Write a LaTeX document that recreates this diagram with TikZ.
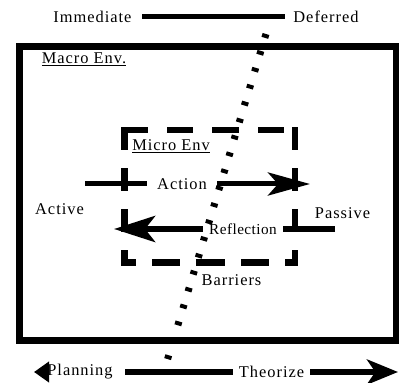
\documentclass[tikz,border=0pt]{standalone}
\usepackage{fontspec}
\setmainfont{Liberation Serif}[LetterSpace=6]
\usetikzlibrary{arrows.meta}

\begin{document}
\begin{tikzpicture}[every node/.style={font=\fontsize{14}{16}\selectfont},
    bar/.style={line width=0.15cm},
    microline/.style={line width=0.195cm, line cap=rect}]
  \useasboundingbox (0,0) rectangle (11.97,-11.49);
  \node[minimum width=2.97cm] (imm) at (2.775,-0.5) {Immediate};
  \node[minimum width=2.43cm] (def) at (9.78,-0.5) {Deferred};
  \draw[bar] (imm) -- (def);
  \draw[line width=0.21cm] (0.585,-1.395) rectangle (11.88,-10.215);
  \node (macro) at (2.52,-1.77) {\underline{Macro Env.}};
  \coordinate (mtl) at (3.735,-3.9);
  \coordinate (mtr) at (8.85,-3.9);
  \coordinate (mbr) at (8.85,-7.875);
  \coordinate (mbl) at (3.735,-7.875);
  \draw[microline, dash pattern=on 0.6cm off 0.765cm] (mtl) -- (mtr);
  \draw[microline, dash pattern=on 0.51cm off 0.72cm] (mtr) -- (mbr);
  \draw[microline, dash pattern=on 0.51cm off 0.72cm] (mtl) -- (mbl);
  \draw[microline, dash pattern=on 0.66cm off 0.675cm, dash phase=0.4575cm] (mbr) -- (mbl);
  \node (micro) at (5.13,-4.38) {\underline{Micro Env}};
  \node[minimum width=2.1cm] (act) at (5.46,-5.52) {Action};
  \coordinate (actl) at (2.55,-5.52);
  \coordinate (actr) at (9.3,-5.52);
  \draw[bar] (actl) -- (act);
  \draw[bar, -{Stealth[length=1.26cm, width=0.69cm, inset=0.3cm]}] (act) -- (actr);
  \node[minimum width=2.4cm, font=\fontsize{13}{15}\selectfont\addfontfeature{LetterSpace=3}]
    (refl) at (7.29,-6.87) {Reflection};
  \coordinate (refr) at (10.05,-6.87);
  \coordinate (refl-tip) at (3.42,-6.87);
  \draw[line width=0.19cm] (refr) -- (refl);
  \draw[line width=0.19cm, -{Stealth[length=1.23cm, width=0.78cm, inset=0.3cm]}] (refl) -- (refl-tip);
  \node (active) at (1.785,-6.27) {Active};
  \node (passive) at (10.275,-6.39) {Passive};
  \node (barriers) at (6.945,-8.4) {Barriers};
  \node[minimum width=1.86cm, inner xsep=0pt] (plan) at (2.4,-11.16) {Planning};
  \node[minimum width=2.31cm] (theo) at (8.145,-11.16) {Theorize};
  \coordinate (plan-tip) at (1.02,-11.16);
  \coordinate (plan-bar) at (3.75,-11.16);
  \coordinate (theo-tip) at (11.94,-11.16);
  \draw[line width=0.18cm, -{Stealth[length=0.45cm, width=0.6cm, inset=0pt]}] (plan) -- (plan-tip);
  \draw[line width=0.18cm] (plan-bar) -- (theo);
  \draw[line width=0.18cm, -{Stealth[length=0.93cm, width=0.75cm, inset=0.25cm]}] (theo) -- (theo-tip);
  \coordinate (dtop) at (7.98,-1.02);
  \coordinate (dbot) at (5.01,-10.83);
  \draw[line width=0.21cm, dash pattern=on 0.12cm off 0.41cm] (dtop) -- (dbot);
\end{tikzpicture}
\end{document}
